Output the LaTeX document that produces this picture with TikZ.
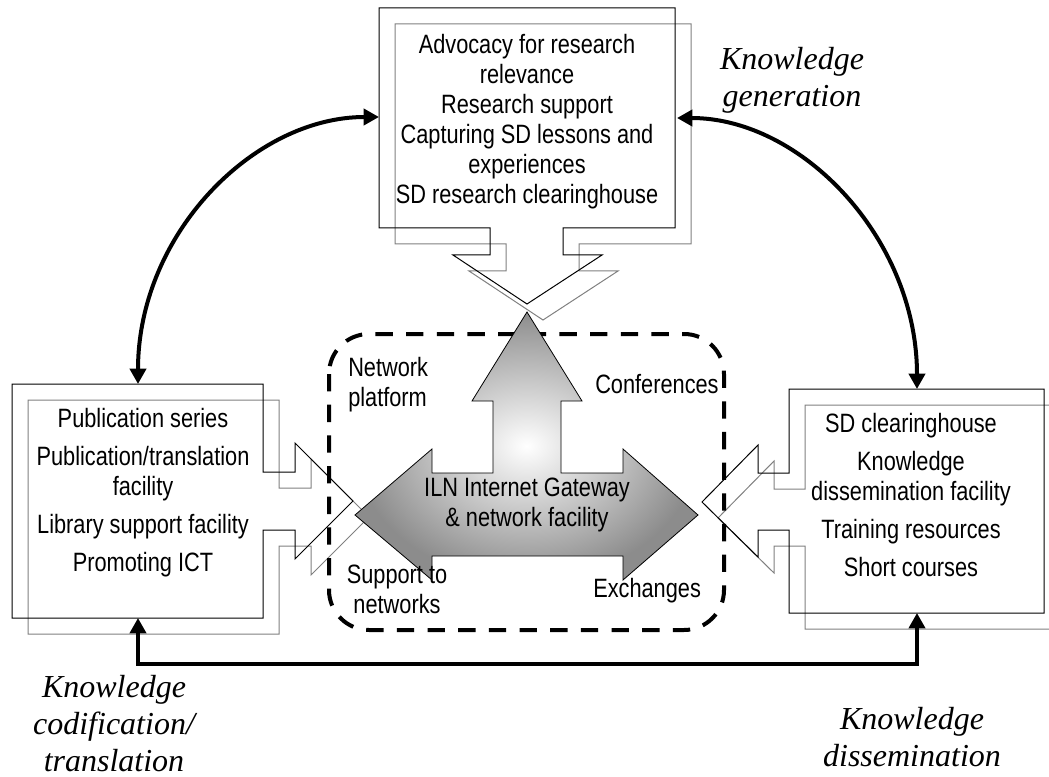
\documentclass[tikz,border=0pt]{standalone}
\usepackage{fontspec}
\setmainfont{Liberation Serif}
\newfontfamily\narrowsans[FakeStretch=0.82]{Liberation Sans}
\usepackage{tikz}
\usetikzlibrary{arrows.meta}

\tikzset{
  boxtext/.style={font=\narrowsans\fontsize{19.9}{22.5}\selectfont, align=center, inner sep=0pt},
  phase/.style={font=\itshape\fontsize{24}{27.75}\selectfont, align=center, inner sep=0pt},
  link/.style={line width=3pt, {Triangle[length=11.5pt,width=12pt]}-{Triangle[length=11.5pt,width=12pt]}},
  outline/.style={line width=0.75pt},
}

\begin{document}
\begin{tikzpicture}[x=0.75pt, y=-0.75pt]
  \useasboundingbox (0,0) rectangle (1049,777);

  % callout boxes: grey shadow first, then black outline
  \foreach \s/\c in {16/gray, 0/black} {
    \draw[outline, \c, shift={(\s,\s)}] (379,8) -- (675,8) -- (675,228) -- (563,228) -- (563,255) -- (602,255)
      -- (527,304) -- (453,255) -- (490,255) -- (490,228) -- (379,228) -- cycle;
    \draw[outline, \c, shift={(\s,\s)}] (12,384) -- (263,384) -- (263,472) -- (295,472) -- (295,443) -- (353,501)
      -- (295,559) -- (295,530) -- (263,530) -- (263,618) -- (12,618) -- cycle;
    \draw[outline, \c, shift={(\s,\s)}] (789,389) -- (1044,389) -- (1044,613) -- (789,613) -- (789,530) -- (758,530)
      -- (758,557) -- (702,502) -- (758,445) -- (758,473) -- (789,473) -- cycle;
  }

  % network boundary
  \draw[line width=3pt, dash pattern=on 13pt off 10pt, rounded corners=30pt] (329,334) rectangle (724,630);

  % gateway arrow
  \shade[draw=black, line width=0.6pt, inner color=white, outer color=black!45]
    (527,312) -- (582,401) -- (561,401) -- (561,473) -- (623,473) -- (623,449) -- (698,515) -- (623,580)
    -- (623,556) -- (432,556) -- (432,580) -- (355,515) -- (432,449) -- (432,473) -- (493,473) -- (493,401)
    -- (472,401) -- cycle;

  \node[boxtext, anchor=north] (gen) at (527,34) {Advocacy for research\\relevance\\Research support\\Capturing SD lessons and\\experiences\\SD research clearinghouse};
  \node[boxtext, anchor=north] (cod) at (143,408) {Publication series\\[6pt]Publication/translation\\facility\\[6pt]Library support facility\\[6pt]Promoting ICT};
  \node[boxtext, anchor=north] (dis) at (911,413) {SD clearinghouse\\[6pt]Knowledge\\dissemination facility\\[6pt]Training resources\\[6pt]Short courses};
  \node[boxtext, anchor=north] (iln) at (527,478) {ILN Internet Gateway\\\& network facility};
  \node[boxtext, anchor=north west, align=left] (platform) at (348,357) {Network\\platform};
  \node[boxtext, anchor=base west] (conf) at (595,393) {Conferences};
  \node[boxtext, anchor=north] (support) at (397,565) {Support to\\networks};
  \node[boxtext, anchor=base west] (exch) at (593,597) {Exchanges};

  \node[phase, anchor=north] (genlbl) at (792,47) {Knowledge\\generation};
  \node[phase, anchor=north] (codlbl) at (114,675) {Knowledge\\codification/\\translation};
  \node[phase, anchor=north] (dislbl) at (912,707) {Knowledge\\dissemination};

  % links between the three boxes
  \coordinate (gen-w) at (379,117);
  \coordinate (gen-e) at (677,118);
  \coordinate (cod-n) at (138,384);
  \coordinate (cod-s) at (138,618);
  \coordinate (dis-n) at (917,389);
  \coordinate (dis-s) at (917,613);
  \draw[link] (cod-n) .. controls +(0,-150) and +(-125,0) .. (gen-w);
  \draw[link] (gen-e) .. controls +(125,0) and +(0,-150) .. (dis-n);
  \draw[link] (cod-s) -- ++(0,46) -| (dis-s);
\end{tikzpicture}
\end{document}
